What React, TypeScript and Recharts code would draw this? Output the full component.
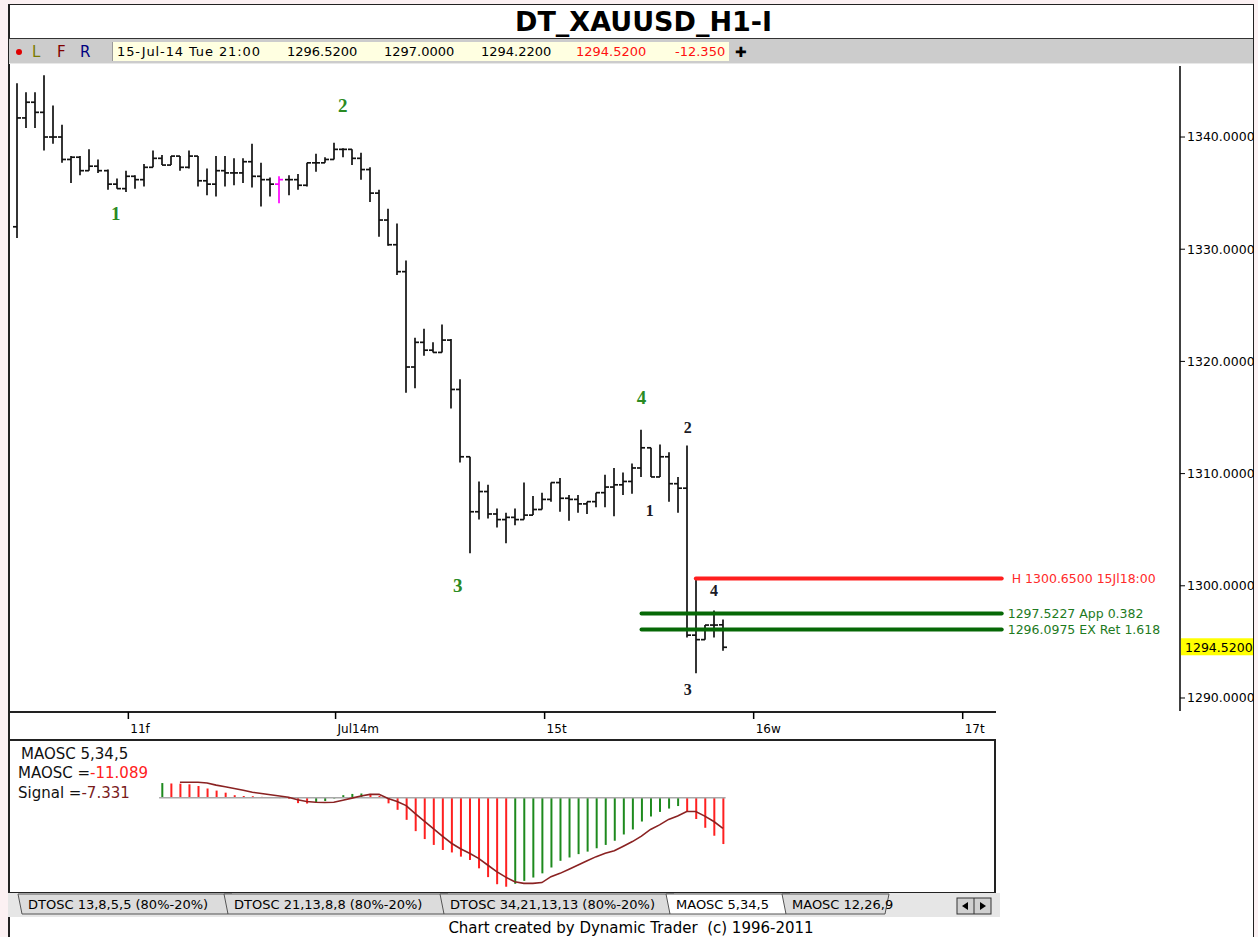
import {
  Bar,
  Cell,
  ComposedChart,
  Line,
  ReferenceLine,
  Scatter,
  XAxis,
  YAxis,
} from 'recharts'

const FONT = '"DejaVu Sans", Tahoma, sans-serif'
const SERIF = '"Liberation Serif", "DejaVu Serif", serif'

// hourly XAUUSD bars, index 0 = first bar on screen
const opens = [
  1332.0, 1341.7, 1343.1, 1342.2, 1340.0, 1340.0, 1338.0, 1338.2, 1337.0, 1337.4,
  1337.0, 1335.8, 1335.4, 1336.5, 1336.2, 1337.3, 1338.1, 1337.5, 1338.3, 1337.3,
  1338.3, 1336.1, 1335.8, 1337.0, 1336.8, 1336.8, 1337.8, 1336.5, 1336.2, 1335.8,
  1336.2, 1336.2, 1335.7, 1337.7, 1337.7, 1338.0, 1338.9, 1338.9, 1338.1, 1337.1,
  1335.0, 1332.6, 1330.4, 1328.0, 1319.5, 1321.7, 1321.0, 1320.8, 1321.9, 1317.5,
  1311.5, 1306.6, 1308.4, 1306.4, 1305.9, 1306.1, 1305.9, 1306.3, 1306.8, 1307.7,
  1309.2, 1307.8, 1307.7, 1307.3, 1307.5, 1308.3, 1308.8, 1309.0, 1309.3, 1310.5,
  1312.3, 1309.7, 1311.5, 1309.1, 1308.7, 1295.6, 1295.2, 1296.5, 1296.52,
]
const highs = [
  1344.8, 1344.0, 1344.0, 1345.5, 1342.8, 1341.1, 1338.3, 1338.3, 1338.9, 1338.0,
  1337.1, 1336.3, 1337.0, 1336.6, 1337.6, 1338.8, 1338.4, 1338.3, 1338.3, 1338.8,
  1338.3, 1337.2, 1338.3, 1338.3, 1338.1, 1338.1, 1339.4, 1337.7, 1336.4, 1336.5,
  1336.6, 1336.7, 1337.7, 1338.5, 1338.2, 1339.5, 1339.0, 1338.9, 1338.6, 1337.3,
  1335.3, 1333.6, 1332.3, 1329.0, 1322.1, 1322.9, 1321.7, 1323.3, 1322.0, 1318.4,
  1311.5, 1309.3, 1309.0, 1306.9, 1306.5, 1306.9, 1309.2, 1308.0, 1308.3, 1309.2,
  1309.6, 1308.1, 1308.1, 1307.5, 1308.3, 1309.9, 1310.5, 1310.1, 1310.9, 1313.9,
  1312.3, 1312.6, 1311.9, 1309.7, 1312.5, 1300.65, 1296.5, 1297.8, 1297.0,
]
const lows = [
  1331.0, 1340.8, 1340.8, 1338.8, 1339.4, 1337.7, 1335.9, 1336.6, 1337.0, 1336.8,
  1335.3, 1335.4, 1335.1, 1335.4, 1335.6, 1337.3, 1337.5, 1337.5, 1337.0, 1337.2,
  1335.6, 1334.8, 1334.7, 1335.6, 1335.7, 1335.9, 1335.5, 1333.8, 1334.7, 1334.1,
  1334.8, 1335.3, 1335.6, 1336.9, 1337.7, 1338.0, 1338.2, 1337.5, 1336.2, 1334.2,
  1331.1, 1330.3, 1327.7, 1317.2, 1317.6, 1320.5, 1320.8, 1320.8, 1315.8, 1311.0,
  1302.9, 1305.9, 1306.0, 1305.2, 1303.8, 1305.4, 1305.9, 1306.3, 1306.8, 1307.5,
  1306.6, 1305.8, 1306.5, 1306.4, 1307.0, 1307.0, 1306.2, 1308.1, 1308.2, 1309.7,
  1309.7, 1309.7, 1307.5, 1306.5, 1295.4, 1292.2, 1295.2, 1295.4, 1294.22,
]
const closes = [
  1341.7, 1343.1, 1342.2, 1340.0, 1340.0, 1338.0, 1338.2, 1337.0, 1337.4, 1337.0,
  1335.8, 1335.4, 1336.5, 1336.2, 1337.3, 1338.1, 1337.5, 1338.3, 1337.3, 1338.3,
  1336.1, 1335.8, 1337.0, 1336.8, 1336.8, 1337.8, 1336.5, 1336.2, 1335.8, 1336.2,
  1336.2, 1335.7, 1337.7, 1337.7, 1338.0, 1338.9, 1338.9, 1338.1, 1337.1, 1335.0,
  1332.6, 1330.4, 1328.0, 1319.5, 1321.7, 1321.0, 1320.8, 1321.9, 1317.5, 1311.5,
  1306.6, 1308.4, 1306.4, 1305.9, 1306.1, 1305.9, 1306.3, 1306.8, 1307.7, 1309.2,
  1307.8, 1307.7, 1307.3, 1307.5, 1308.3, 1308.8, 1309.0, 1309.3, 1310.5, 1312.3,
  1309.7, 1311.5, 1309.1, 1308.7, 1295.6, 1295.2, 1296.5, 1296.5, 1294.52,
]
const markedBar = 29

const priceTicks = [1290, 1300, 1310, 1320, 1330, 1340]

// MAOSC 5,34,5
const oscStart = 16
const oscValues = [
  3.5, 3.4, 3.35, 3.2, 2.8, 2.2, 1.7, 1.2, 0.6, 0.4,
  0.35, 0.2, 0.1, -0.1, -0.3, -1.3, -1.4, -1.1, -0.8, -0.2,
  0.6, 0.9, 1.0, 0.9, 0.4, -1.35, -2.9, -5.3, -8.0, -9.9,
  -11.3, -12.5, -13.1, -14.1, -14.9, -16.9, -19.0, -20.7, -21.3, -20.6,
  -19.9, -19.1, -18.1, -16.7, -15.1, -14.3, -13.5, -12.9, -12.1, -11.3,
  -10.3, -8.8, -7.6, -5.7, -4.5, -3.4, -2.6, -2.0, -3.3, -5.1,
  -7.2, -9.1, -11.089,
]
const signalStart = 18
const signalValues = [
  3.7, 3.7, 3.7, 3.5, 3.0, 2.6, 2.2, 1.8, 1.3, 1.0,
  0.7, 0.4, 0.1, -0.5, -0.9, -1.1, -1.15, -1.1, -0.6, -0.1,
  0.4, 0.8, 0.8, -0.2, -0.9, -1.9, -3.8, -5.6, -7.4, -9.2,
  -10.9, -12.2, -13.3, -14.5, -16.1, -17.7, -19.0, -20.1, -20.5, -20.5,
  -20.3, -18.9, -18.1, -17.1, -16.1, -15.1, -14.1, -13.3, -12.7, -11.6,
  -10.5, -9.2, -7.6, -6.5, -5.2, -4.4, -3.3, -3.3, -4.4, -5.7,
  -7.331,
]

const dayTicks = [12.3, 35.2, 58.3, 81.4, 104.5]
const dayLabels = ['11f', 'Jul14m', '15t', '16w', '17t']

// Elliott wave labels
const waveIndex = [10.9, 36, 48.7, 69, 69.9, 74.1, 74.1, 77]
const wavePrice = [1333.2, 1342.8, 1300.0, 1316.8, 1306.7, 1314.1, 1290.8, 1299.6]
const waveText = ['1', '2', '3', '4', '1', '2', '3', '4']
const waveMajor = [true, true, true, true, false, false, false, false]

// projection levels
const levelPrices = [1300.65, 1297.5227, 1296.0975]
const levelFrom = [75, 69, 69]
const levelEnd = 108.8
const levelText = ['H 1300.6500 15Jl18:00', '1297.5227 App 0.382', '1296.0975 EX Ret 1.618']
const levelColors = ['#ff1e1e', '#066806', '#066806']
const levelTextColors = ['#ff2a2a', '#1e7a1e', '#1e7a1e']

const quoteTime = '15-Jul-14 Tue 21:00'
const netChange = -12.35

const tabNames = ['DTOSC 13,8,5,5 (80%-20%)', 'DTOSC 21,13,8,8 (80%-20%)', 'DTOSC 34,21,13,13 (80%-20%)', 'MAOSC 5,34,5', 'MAOSC 12,26,9']
const activeTab = 3

const priceRows = closes.map((c, i) => ({
  i,
  open: opens[i],
  high: highs[i],
  low: lows[i],
  close: c,
  marked: i === markedBar,
}))

const oscRows = closes.map((_, i) => ({
  i,
  osc: i >= oscStart ? oscValues[i - oscStart] : null,
  signal: i >= signalStart ? signalValues[i - signalStart] : null,
}))

const waveRows = waveText.map((t, k) => ({ i: waveIndex[k], price: wavePrice[k], text: t, major: waveMajor[k] }))

const last = closes.length - 1

function OhlcBar(props: any) {
  const { x, y, width, height, payload } = props
  if (x == null || !payload) return null
  const top = Math.min(y, y + height)
  const bottom = Math.max(y, y + height)
  const span = payload.high - payload.low
  const toY = (v: number) => (span > 0 ? top + ((payload.high - v) / span) * (bottom - top) : top)
  const cx = Math.round(x + width / 2)
  const yo = toY(payload.open)
  const yc = toY(payload.close)
  return (
    <g stroke={payload.marked ? '#ff00ff' : '#111'} strokeWidth={1.7}>
      <line x1={cx} x2={cx} y1={top} y2={bottom} />
      <line x1={cx - 4} x2={cx} y1={yo} y2={yo} />
      <line x1={cx} x2={cx + 4} y1={yc} y2={yc} />
    </g>
  )
}

function WaveMark({ cx, cy, payload }: any) {
  if (cx == null) return null
  return (
    <text
      x={cx}
      y={cy}
      textAnchor="middle"
      dominantBaseline="central"
      fontFamily={SERIF}
      fontWeight={700}
      fontSize={payload.major ? 19 : 16}
      fill={payload.major ? '#2a8a22' : '#1a1a26'}
    >
      {payload.text}
    </text>
  )
}

function LevelLabel({ viewBox, text, color, gap }: any) {
  if (!viewBox) return null
  return (
    <text x={viewBox.x + viewBox.width + gap} y={viewBox.y + 4.5} fill={color} fontSize={12.5} fontFamily={FONT}>
      {text}
    </text>
  )
}

function PriceTag({ viewBox, text }: any) {
  if (!viewBox) return null
  const right = viewBox.x + viewBox.width
  return (
    <g>
      <rect x={right + 1} y={viewBox.y - 9} width={72} height={17} fill="#ffff00" />
      <text x={right + 5} y={viewBox.y + 4.5} fontSize={12.5} fontFamily={FONT} fill="#000">
        {text}
      </text>
    </g>
  )
}

function DayTick({ x, payload }: any) {
  const k = dayTicks.indexOf(payload.value)
  return (
    <g>
      <line x1={x} x2={x} y1={0} y2={7} stroke="#000" strokeWidth={1.5} />
      <text x={x + 2} y={21} fontSize={12} fontFamily={FONT} fill="#000">
        {dayLabels[k]}
      </text>
    </g>
  )
}

function Tabs() {
  const edges = [22, 228, 444, 670, 786, 885]
  return (
    <svg width={1000} height={24} style={{ position: 'absolute', left: 8, top: 893 }}>
      <rect x={0} y={0} width={992} height={24} fill="#e6e6e6" />
      {tabNames.map((name, k) => {
        const x0 = edges[k] - 8
        const x1 = edges[k + 1] - 8
        const active = k === activeTab
        return (
          <g key={name}>
            <polygon
              points={`${x0 - 4},1 ${x1 + 4},1 ${x1},21 ${x0},21`}
              fill={active ? '#ffffff' : '#dcdcdc'}
              stroke="#555"
              strokeWidth={1}
            />
            <text x={x0 + 6} y={16} fontSize={13} fontFamily={FONT} fill="#000">
              {name}
            </text>
          </g>
        )
      })}
      <rect x={949} y={5} width={34} height={16} fill="#d0d0d0" stroke="#333" />
      <line x1={966} x2={966} y1={5} y2={21} stroke="#333" />
      <polygon points="954,13 960,9 960,17" fill="#000" />
      <polygon points="978,13 972,9 972,17" fill="#000" />
    </svg>
  )
}

export default function App() {
  const abs = (left: number, top: number, extra: any = {}) => ({ position: 'absolute' as const, left, top, ...extra })
  return (
    <div style={{ position: 'fixed', left: 0, top: 0, width: 1258, height: 937, background: '#fcf1f3', overflow: 'hidden', fontFamily: FONT }}>
      <div style={abs(8, 4, { width: 1246, height: 940, background: '#fff', borderTop: '1px solid #222', borderLeft: '2px solid #222', borderRight: '1px solid #222', boxSizing: 'border-box' })} />

      {/* title + quote bar */}
      <div style={abs(515, 5, { fontSize: 27, fontWeight: 700, lineHeight: '33px', color: '#000', whiteSpace: 'nowrap' })}>DT_XAUUSD_H1-I</div>
      <div style={abs(9, 38, { width: 1244, height: 26, background: '#cccccc', borderTop: '1px solid #333', borderBottom: '1px solid #e8e8e8', boxSizing: 'border-box' })} />
      <div style={abs(16, 49, { width: 6, height: 6, borderRadius: 3, background: '#e00000' })} />
      <div style={abs(32, 42, { fontSize: 15, color: '#7a7a00', lineHeight: '20px' })}>L</div>
      <div style={abs(57, 42, { fontSize: 15, color: '#800000', lineHeight: '20px' })}>F</div>
      <div style={abs(80, 42, { fontSize: 15, color: '#000080', lineHeight: '20px' })}>R</div>
      <div style={abs(112, 42, { width: 616, height: 19, background: '#ffffe1', borderLeft: '1px solid #999', overflow: 'hidden', fontSize: 13, lineHeight: '19px', color: '#000', whiteSpace: 'nowrap' })}>
        <span style={abs(4, 0, { letterSpacing: 0.9 })}>{quoteTime}</span>
        <span style={abs(174, 0)}>{opens[last].toFixed(4)}</span>
        <span style={abs(271, 0)}>{highs[last].toFixed(4)}</span>
        <span style={abs(368, 0)}>{lows[last].toFixed(4)}</span>
        <span style={abs(463, 0, { color: '#ff1010' })}>{closes[last].toFixed(4)}</span>
        <span style={abs(562, 0, { color: '#ff1010' })}>{netChange.toFixed(3)}</span>
      </div>
      <div style={abs(735, 42, { fontSize: 14, fontWeight: 700, lineHeight: '20px' })}>✚</div>

      {/* price pane */}
      <div style={abs(8, 64)}>
        <ComposedChart width={1246} height={648} data={priceRows} margin={{ top: 2, right: 0, bottom: 1, left: 0 }}>
          <XAxis type="number" dataKey="i" domain={[-1, 128.5]} hide allowDataOverflow />
          <YAxis
            orientation="right"
            width={74}
            domain={[1288.84, 1346.33]}
            ticks={priceTicks}
            allowDataOverflow
            tickFormatter={(v: number) => v.toFixed(4)}
            tick={{ fontSize: 12.5, fill: '#000', fontFamily: FONT }}
            tickSize={5}
            tickLine={{ stroke: '#000' }}
            axisLine={{ stroke: '#000', strokeWidth: 1.5 }}
          />
          <Bar dataKey={(d: any) => [d.low, d.high]} barSize={6} shape={(p: any) => <OhlcBar {...p} />} isAnimationActive={false} />
          {levelPrices.map((p, k) => (
            <ReferenceLine
              key={levelText[k]}
              segment={[{ x: levelFrom[k], y: p }, { x: levelEnd, y: p }]}
              stroke={levelColors[k]}
              strokeWidth={4}
              strokeLinecap="round"
              ifOverflow="visible"
              label={<LevelLabel text={levelText[k]} color={levelTextColors[k]} gap={k === 0 ? 10 : 6} />}
            />
          ))}
          <ReferenceLine y={closes[last]} stroke="none" ifOverflow="visible" label={<PriceTag text={closes[last].toFixed(4)} />} />
          <Scatter data={waveRows} dataKey="price" shape={(p: any) => <WaveMark {...p} />} isAnimationActive={false} />
        </ComposedChart>
      </div>

      {/* date strip + oscillator pane */}
      <div style={abs(8, 711, { width: 988, height: 0, borderTop: '2px solid #222' })} />
      <div style={abs(8, 712)}>
        <ComposedChart width={987} height={181} data={oscRows} margin={{ top: 0, right: 0, bottom: 0, left: 0 }}>
          <XAxis
            type="number"
            dataKey="i"
            orientation="top"
            height={28}
            domain={[-1, 108.07]}
            ticks={dayTicks}
            interval={0}
            allowDataOverflow
            axisLine={false}
            tickLine={false}
            tick={(p: any) => <DayTick {...p} />}
          />
          <YAxis hide domain={[-22.8, 13.8]} allowDataOverflow />
          <ReferenceLine segment={[{ x: oscStart - 0.3, y: 0 }, { x: last + 0.3, y: 0 }]} stroke="#a8a8a8" strokeWidth={1.5} />
          <Bar dataKey="osc" barSize={2} isAnimationActive={false}>
            {oscRows.map((r, k) => {
              const prev = k > 0 ? oscRows[k - 1].osc : null
              const up = r.osc != null && (prev == null || r.osc >= prev)
              return <Cell key={r.i} fill={up ? '#1e8a1e' : '#ff2020'} />
            })}
          </Bar>
          <Line dataKey="signal" stroke="#8a2222" strokeWidth={1.6} dot={false} isAnimationActive={false} connectNulls={false} />
        </ComposedChart>
      </div>
      <div style={abs(8, 739, { width: 988, height: 155, border: '2px solid #222', boxSizing: 'border-box', pointerEvents: 'none' })} />
      <div style={abs(21, 745, { fontSize: 15, lineHeight: '18px', color: '#111', whiteSpace: 'nowrap' })}>MAOSC 5,34,5</div>
      <div style={abs(18, 764, { fontSize: 15, lineHeight: '18px', color: '#111', whiteSpace: 'nowrap' })}>
        MAOSC =<span style={{ color: '#ff2020' }}>{oscValues[oscValues.length - 1].toFixed(3)}</span>
      </div>
      <div style={abs(18, 784, { fontSize: 15, lineHeight: '18px', color: '#111', whiteSpace: 'nowrap' })}>
        Signal =<span style={{ color: '#7a1c1c' }}>{signalValues[signalValues.length - 1].toFixed(3)}</span>
      </div>

      <Tabs />
      <div style={abs(0, 919, { width: 1262, textAlign: 'center', fontSize: 15, lineHeight: '18px', color: '#000', whiteSpace: 'pre' })}>
        {'Chart created by Dynamic Trader  (c) 1996-2011'}
      </div>
    </div>
  )
}
